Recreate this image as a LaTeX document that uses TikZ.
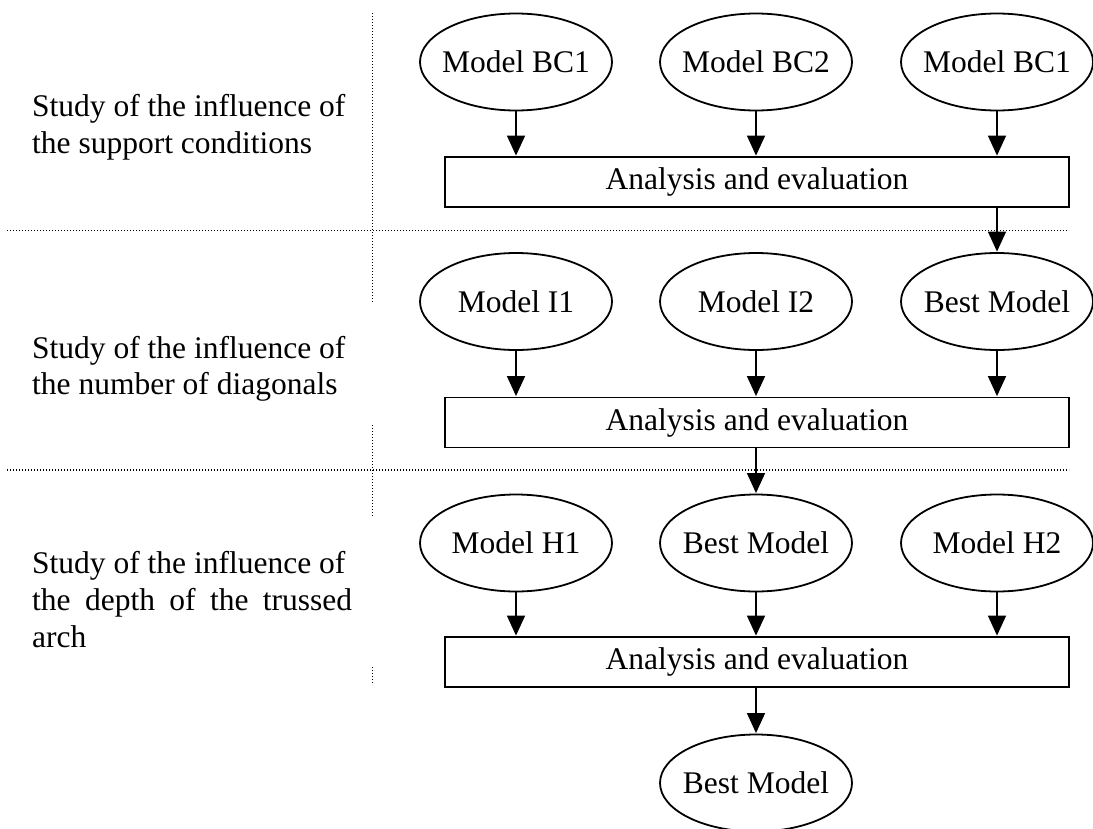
\documentclass[tikz,border=0pt]{standalone}
\usepackage{fontspec}
\setmainfont{Liberation Serif}
\usetikzlibrary{shapes.geometric,arrows.meta}
\newcommand{\zb}[1]{\makebox[0pt][c]{#1}}
\tikzset{
  model/.style={draw, ellipse, line width=1.8pt, minimum width=192pt, minimum height=97pt, inner sep=0pt},
  evalbox/.style={draw, rectangle, line width=1.8pt, minimum width=624pt, minimum height=50pt, inner sep=0pt},
  flow/.style={line width=1.5pt, -{Triangle[length=20pt,width=18pt]}, shorten >=0.5pt},
  sep/.style={line width=1.3pt, dash pattern=on 1.3pt off 1.7pt},
  lbl/.style={anchor=base west, inner sep=0pt}
}
\begin{document}
\begin{tikzpicture}[x=1pt,y=-1pt, font=\fontsize{31.5}{36.7}\selectfont]
\useasboundingbox (0,0) rectangle (1093,828);
% separators
\draw[sep] (7,230.7) -- (1069,230.7);
\draw[sep] (7,470) -- (1069,470);
\draw[sep] (372.7,13) -- (372.7,302);
\draw[sep] (372.7,425) -- (372.7,517);
\draw[sep] (372.7,667) -- (372.7,685);
% left labels
\node[lbl] (s1a) at (32,116) {Study of the influence of};
\node[lbl] (s1b) at (32,153) {the support conditions};
\node[lbl] (s2a) at (32,358) {Study of the influence of};
\node[lbl] (s2b) at (32,394) {the number of diagonals};
\node[lbl] (s3a) at (32,573) {Study of the influence of};
\node[lbl] (s3b) at (32,610) {\makebox[320pt][s]{the depth of the trussed}};
\node[lbl] (s3c) at (32,647) {arch};
% row 1
\node[model] (a1) at (516,62) {\zb{Model BC1}};
\node[model] (a2) at (756,62) {\zb{Model BC2}};
\node[model] (a3) at (997,62) {\zb{Model BC1}};
\node[evalbox] (b1) at (757,182) {Analysis and evaluation};
% row 2
\node[model] (c1) at (516,301.5) {\zb{Model I1}};
\node[model] (c2) at (756,301.5) {\zb{Model I2}};
\node[model] (c3) at (997,301.5) {\zb{Best Model}};
\node[evalbox] (b2) at (757,422.5) {Analysis and evaluation};
% row 3
\node[model] (d1) at (516,543) {\zb{Model H1}};
\node[model] (d2) at (756,543) {\zb{Best Model}};
\node[model] (d3) at (997,543) {\zb{Model H2}};
\node[evalbox] (b3) at (757,662) {Analysis and evaluation};
% final
\node[model] (f) at (756,783) {\zb{Best Model}};
% arrows
\foreach \n in {a1,a2,a3}{\draw[flow] (\n.south) -- (\n.south |- b1.north);}
\draw[flow] (c3.north |- b1.south) -- (c3.north);
\foreach \n in {c1,c2,c3}{\draw[flow] (\n.south) -- (\n.south |- b2.north);}
\draw[flow] (d2.north |- b2.south) -- (d2.north);
\foreach \n in {d1,d2,d3}{\draw[flow] (\n.south) -- (\n.south |- b3.north);}
\draw[flow] (f.north |- b3.south) -- (f.north);
\end{tikzpicture}
\end{document}
